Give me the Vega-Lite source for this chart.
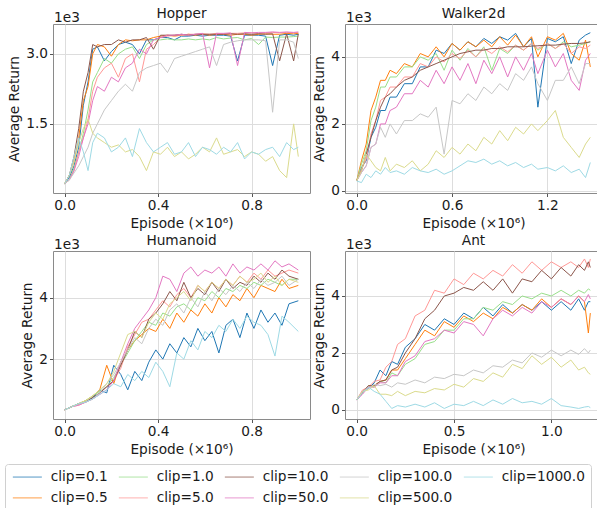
{
"$schema":"https://vega.github.io/schema/vega-lite/v6.json",
"padding":{"left":4,"top":6,"right":0,"bottom":0},
"background":"white",
"config":{
"font":"DejaVu Sans",
"view":{"stroke":"#8a8a8a","strokeWidth":1},
"axis":{"domain":false,"grid":true,"gridColor":"#dddddd","gridWidth":1,"tickColor":"#555555","tickSize":3.5,"labelFontSize":13.7,"titleFontSize":13.7,"titleFontWeight":"normal","labelColor":"#1a1a1a","titleColor":"#1a1a1a","labelPadding":2,"titlePadding":4,"labelFlush":false},
"title":{"fontSize":13.7,"fontWeight":"normal","color":"#1a1a1a","offset":-10},
"legend":{"symbolType":"M-1,0H4.8","symbolSize":100,"symbolStrokeWidth":1.5,"symbolOpacity":0.5,"labelFontSize":13.7,"labelColor":"#1a1a1a","labelOffset":26,"columnPadding":7,"rowPadding":6,"padding":6,"strokeColor":"#d0d0d0","cornerRadius":3,"fillColor":"white"}
},
"datasets":{
"hop":[
{"s":0.1,"x":0,"y":0.22},{"s":0.1,"x":0.02,"y":0.35},{"s":0.1,"x":0.04,"y":0.6},{"s":0.1,"x":0.06,"y":1.0},{"s":0.1,"x":0.08,"y":1.9},{"s":0.1,"x":0.1,"y":2.4},{"s":0.1,"x":0.12,"y":3.1},{"s":0.1,"x":0.14,"y":3.15},{"s":0.1,"x":0.17,"y":2.85},{"s":0.1,"x":0.2,"y":3.05},{"s":0.1,"x":0.23,"y":3.2},{"s":0.1,"x":0.26,"y":3.25},{"s":0.1,"x":0.29,"y":3.2},{"s":0.1,"x":0.32,"y":3.0},{"s":0.1,"x":0.35,"y":3.3},{"s":0.1,"x":0.38,"y":3.3},{"s":0.1,"x":0.41,"y":3.35},{"s":0.1,"x":0.44,"y":3.35},{"s":0.1,"x":0.47,"y":3.3},{"s":0.1,"x":0.5,"y":3.38},{"s":0.1,"x":0.53,"y":3.38},{"s":0.1,"x":0.56,"y":3.4},{"s":0.1,"x":0.59,"y":3.38},{"s":0.1,"x":0.62,"y":3.4},{"s":0.1,"x":0.65,"y":3.4},{"s":0.1,"x":0.68,"y":3.4},{"s":0.1,"x":0.71,"y":3.38},{"s":0.1,"x":0.74,"y":2.85},{"s":0.1,"x":0.77,"y":3.4},{"s":0.1,"x":0.8,"y":3.4},{"s":0.1,"x":0.83,"y":3.4},{"s":0.1,"x":0.86,"y":3.38},{"s":0.1,"x":0.89,"y":2.75},{"s":0.1,"x":0.92,"y":3.4},{"s":0.1,"x":0.95,"y":3.42},{"s":0.1,"x":0.98,"y":3.4},{"s":0.1,"x":1,"y":3.42},
{"s":0.5,"x":0,"y":0.22},{"s":0.5,"x":0.02,"y":0.4},{"s":0.5,"x":0.04,"y":0.7},{"s":0.5,"x":0.06,"y":1.2},{"s":0.5,"x":0.08,"y":2.0},{"s":0.5,"x":0.1,"y":2.3},{"s":0.5,"x":0.12,"y":3.0},{"s":0.5,"x":0.14,"y":3.2},{"s":0.5,"x":0.17,"y":3.15},{"s":0.5,"x":0.2,"y":2.95},{"s":0.5,"x":0.23,"y":3.2},{"s":0.5,"x":0.26,"y":3.3},{"s":0.5,"x":0.29,"y":3.28},{"s":0.5,"x":0.32,"y":3.3},{"s":0.5,"x":0.35,"y":3.3},{"s":0.5,"x":0.38,"y":3.35},{"s":0.5,"x":0.41,"y":3.38},{"s":0.5,"x":0.44,"y":3.4},{"s":0.5,"x":0.47,"y":3.38},{"s":0.5,"x":0.5,"y":3.4},{"s":0.5,"x":0.53,"y":3.42},{"s":0.5,"x":0.56,"y":3.4},{"s":0.5,"x":0.59,"y":3.42},{"s":0.5,"x":0.62,"y":3.4},{"s":0.5,"x":0.65,"y":3.42},{"s":0.5,"x":0.68,"y":3.42},{"s":0.5,"x":0.71,"y":3.4},{"s":0.5,"x":0.74,"y":3.42},{"s":0.5,"x":0.77,"y":3.42},{"s":0.5,"x":0.8,"y":3.4},{"s":0.5,"x":0.83,"y":3.42},{"s":0.5,"x":0.86,"y":3.43},{"s":0.5,"x":0.89,"y":3.42},{"s":0.5,"x":0.92,"y":3.42},{"s":0.5,"x":0.95,"y":3.44},{"s":0.5,"x":0.98,"y":3.43},{"s":0.5,"x":1,"y":3.44},
{"s":1,"x":0,"y":0.22},{"s":1,"x":0.02,"y":0.3},{"s":1,"x":0.04,"y":0.55},{"s":1,"x":0.06,"y":0.9},{"s":1,"x":0.08,"y":1.3},{"s":1,"x":0.1,"y":1.8},{"s":1,"x":0.12,"y":2.4},{"s":1,"x":0.14,"y":2.6},{"s":1,"x":0.17,"y":2.9},{"s":1,"x":0.2,"y":2.8},{"s":1,"x":0.23,"y":3.0},{"s":1,"x":0.26,"y":3.1},{"s":1,"x":0.29,"y":3.15},{"s":1,"x":0.32,"y":2.9},{"s":1,"x":0.35,"y":3.2},{"s":1,"x":0.38,"y":3.3},{"s":1,"x":0.41,"y":3.3},{"s":1,"x":0.44,"y":3.32},{"s":1,"x":0.47,"y":3.3},{"s":1,"x":0.5,"y":3.3},{"s":1,"x":0.53,"y":3.32},{"s":1,"x":0.56,"y":3.3},{"s":1,"x":0.59,"y":3.32},{"s":1,"x":0.62,"y":3.3},{"s":1,"x":0.65,"y":3.35},{"s":1,"x":0.68,"y":3.32},{"s":1,"x":0.71,"y":3.34},{"s":1,"x":0.74,"y":3.35},{"s":1,"x":0.77,"y":3.3},{"s":1,"x":0.8,"y":3.33},{"s":1,"x":0.83,"y":3.2},{"s":1,"x":0.86,"y":3.36},{"s":1,"x":0.89,"y":3.35},{"s":1,"x":0.92,"y":3.36},{"s":1,"x":0.95,"y":3.36},{"s":1,"x":0.98,"y":3.37},{"s":1,"x":1,"y":3.38},
{"s":5,"x":0,"y":0.22},{"s":5,"x":0.02,"y":0.3},{"s":5,"x":0.04,"y":0.5},{"s":5,"x":0.06,"y":0.9},{"s":5,"x":0.08,"y":1.2},{"s":5,"x":0.1,"y":1.6},{"s":5,"x":0.12,"y":2.2},{"s":5,"x":0.14,"y":2.5},{"s":5,"x":0.17,"y":2.7},{"s":5,"x":0.2,"y":2.8},{"s":5,"x":0.23,"y":2.5},{"s":5,"x":0.26,"y":2.9},{"s":5,"x":0.29,"y":3.0},{"s":5,"x":0.32,"y":2.4},{"s":5,"x":0.35,"y":3.1},{"s":5,"x":0.38,"y":3.2},{"s":5,"x":0.41,"y":3.35},{"s":5,"x":0.44,"y":3.38},{"s":5,"x":0.47,"y":3.4},{"s":5,"x":0.5,"y":3.4},{"s":5,"x":0.53,"y":3.42},{"s":5,"x":0.56,"y":3.42},{"s":5,"x":0.59,"y":3.43},{"s":5,"x":0.62,"y":3.42},{"s":5,"x":0.65,"y":3.44},{"s":5,"x":0.68,"y":3.43},{"s":5,"x":0.71,"y":3.44},{"s":5,"x":0.74,"y":3.44},{"s":5,"x":0.77,"y":3.45},{"s":5,"x":0.8,"y":3.45},{"s":5,"x":0.83,"y":3.44},{"s":5,"x":0.86,"y":3.45},{"s":5,"x":0.89,"y":3.46},{"s":5,"x":0.92,"y":3.45},{"s":5,"x":0.95,"y":3.46},{"s":5,"x":0.98,"y":3.45},{"s":5,"x":1,"y":3.46},
{"s":10,"x":0,"y":0.22},{"s":10,"x":0.02,"y":0.4},{"s":10,"x":0.04,"y":0.8},{"s":10,"x":0.06,"y":1.4},{"s":10,"x":0.08,"y":2.2},{"s":10,"x":0.1,"y":2.6},{"s":10,"x":0.12,"y":3.2},{"s":10,"x":0.14,"y":3.15},{"s":10,"x":0.17,"y":3.2},{"s":10,"x":0.2,"y":3.2},{"s":10,"x":0.23,"y":3.3},{"s":10,"x":0.26,"y":3.25},{"s":10,"x":0.29,"y":3.3},{"s":10,"x":0.32,"y":3.3},{"s":10,"x":0.35,"y":3.35},{"s":10,"x":0.38,"y":3.1},{"s":10,"x":0.41,"y":3.4},{"s":10,"x":0.44,"y":3.4},{"s":10,"x":0.47,"y":3.4},{"s":10,"x":0.5,"y":3.42},{"s":10,"x":0.53,"y":3.4},{"s":10,"x":0.56,"y":3.42},{"s":10,"x":0.59,"y":3.42},{"s":10,"x":0.62,"y":3.42},{"s":10,"x":0.65,"y":3.42},{"s":10,"x":0.68,"y":3.42},{"s":10,"x":0.71,"y":3.43},{"s":10,"x":0.74,"y":3.42},{"s":10,"x":0.77,"y":3.43},{"s":10,"x":0.8,"y":3.42},{"s":10,"x":0.83,"y":3.43},{"s":10,"x":0.86,"y":3.42},{"s":10,"x":0.89,"y":3.43},{"s":10,"x":0.92,"y":2.85},{"s":10,"x":0.95,"y":3.43},{"s":10,"x":0.98,"y":2.85},{"s":10,"x":1,"y":3.43},
{"s":50,"x":0,"y":0.22},{"s":50,"x":0.02,"y":0.3},{"s":50,"x":0.04,"y":0.5},{"s":50,"x":0.06,"y":0.8},{"s":50,"x":0.08,"y":1.2},{"s":50,"x":0.1,"y":1.5},{"s":50,"x":0.12,"y":2.0},{"s":50,"x":0.14,"y":2.3},{"s":50,"x":0.17,"y":2.2},{"s":50,"x":0.2,"y":2.5},{"s":50,"x":0.23,"y":2.4},{"s":50,"x":0.26,"y":2.7},{"s":50,"x":0.29,"y":2.8},{"s":50,"x":0.32,"y":3.1},{"s":50,"x":0.35,"y":3.0},{"s":50,"x":0.38,"y":3.3},{"s":50,"x":0.41,"y":3.35},{"s":50,"x":0.44,"y":3.4},{"s":50,"x":0.47,"y":3.4},{"s":50,"x":0.5,"y":3.42},{"s":50,"x":0.53,"y":3.4},{"s":50,"x":0.56,"y":3.42},{"s":50,"x":0.59,"y":3.44},{"s":50,"x":0.62,"y":2.7},{"s":50,"x":0.65,"y":3.44},{"s":50,"x":0.68,"y":3.44},{"s":50,"x":0.71,"y":3.45},{"s":50,"x":0.74,"y":2.75},{"s":50,"x":0.77,"y":3.46},{"s":50,"x":0.8,"y":3.45},{"s":50,"x":0.83,"y":3.46},{"s":50,"x":0.86,"y":3.46},{"s":50,"x":0.89,"y":3.47},{"s":50,"x":0.92,"y":3.46},{"s":50,"x":0.95,"y":3.47},{"s":50,"x":0.98,"y":3.46},{"s":50,"x":1,"y":3.47},
{"s":100,"x":0,"y":0.22},{"s":100,"x":0.02,"y":0.3},{"s":100,"x":0.04,"y":0.45},{"s":100,"x":0.06,"y":0.6},{"s":100,"x":0.08,"y":0.8},{"s":100,"x":0.1,"y":1.0},{"s":100,"x":0.12,"y":1.3},{"s":100,"x":0.14,"y":1.5},{"s":100,"x":0.17,"y":1.8},{"s":100,"x":0.2,"y":2.0},{"s":100,"x":0.23,"y":2.2},{"s":100,"x":0.26,"y":2.35},{"s":100,"x":0.29,"y":2.2},{"s":100,"x":0.32,"y":2.6},{"s":100,"x":0.35,"y":2.7},{"s":100,"x":0.38,"y":2.75},{"s":100,"x":0.41,"y":2.8},{"s":100,"x":0.44,"y":2.6},{"s":100,"x":0.47,"y":2.9},{"s":100,"x":0.5,"y":2.95},{"s":100,"x":0.53,"y":3.0},{"s":100,"x":0.56,"y":3.05},{"s":100,"x":0.59,"y":3.1},{"s":100,"x":0.62,"y":3.15},{"s":100,"x":0.65,"y":2.75},{"s":100,"x":0.68,"y":3.2},{"s":100,"x":0.71,"y":3.25},{"s":100,"x":0.74,"y":3.28},{"s":100,"x":0.77,"y":3.3},{"s":100,"x":0.8,"y":3.3},{"s":100,"x":0.83,"y":3.3},{"s":100,"x":0.86,"y":3.28},{"s":100,"x":0.89,"y":1.75},{"s":100,"x":0.92,"y":3.3},{"s":100,"x":0.95,"y":3.3},{"s":100,"x":0.98,"y":3.25},{"s":100,"x":1,"y":2.9},
{"s":500,"x":0,"y":0.22},{"s":500,"x":0.02,"y":0.4},{"s":500,"x":0.04,"y":0.7},{"s":500,"x":0.06,"y":1.1},{"s":500,"x":0.08,"y":1.4},{"s":500,"x":0.1,"y":1.6},{"s":500,"x":0.12,"y":1.3},{"s":500,"x":0.14,"y":1.2},{"s":500,"x":0.17,"y":1.1},{"s":500,"x":0.2,"y":1.0},{"s":500,"x":0.23,"y":1.05},{"s":500,"x":0.26,"y":0.9},{"s":500,"x":0.29,"y":0.95},{"s":500,"x":0.32,"y":0.8},{"s":500,"x":0.35,"y":0.5},{"s":500,"x":0.38,"y":0.9},{"s":500,"x":0.41,"y":0.85},{"s":500,"x":0.44,"y":1.0},{"s":500,"x":0.47,"y":0.8},{"s":500,"x":0.5,"y":0.9},{"s":500,"x":0.53,"y":0.75},{"s":500,"x":0.56,"y":0.85},{"s":500,"x":0.59,"y":1.0},{"s":500,"x":0.62,"y":0.9},{"s":500,"x":0.65,"y":1.2},{"s":500,"x":0.68,"y":0.85},{"s":500,"x":0.71,"y":0.9},{"s":500,"x":0.74,"y":0.95},{"s":500,"x":0.77,"y":0.8},{"s":500,"x":0.8,"y":0.9},{"s":500,"x":0.83,"y":0.85},{"s":500,"x":0.86,"y":0.7},{"s":500,"x":0.89,"y":0.8},{"s":500,"x":0.92,"y":0.5},{"s":500,"x":0.95,"y":0.35},{"s":500,"x":0.98,"y":1.5},{"s":500,"x":1,"y":0.8},
{"s":1000,"x":0,"y":0.22},{"s":1000,"x":0.02,"y":0.4},{"s":1000,"x":0.04,"y":0.8},{"s":1000,"x":0.06,"y":1.2},{"s":1000,"x":0.08,"y":0.9},{"s":1000,"x":0.1,"y":0.5},{"s":1000,"x":0.12,"y":1.1},{"s":1000,"x":0.14,"y":1.3},{"s":1000,"x":0.17,"y":1.2},{"s":1000,"x":0.2,"y":0.9},{"s":1000,"x":0.23,"y":1.0},{"s":1000,"x":0.26,"y":1.2},{"s":1000,"x":0.29,"y":0.8},{"s":1000,"x":0.32,"y":1.4},{"s":1000,"x":0.35,"y":1.1},{"s":1000,"x":0.38,"y":0.9},{"s":1000,"x":0.41,"y":1.0},{"s":1000,"x":0.44,"y":1.1},{"s":1000,"x":0.47,"y":0.85},{"s":1000,"x":0.5,"y":0.9},{"s":1000,"x":0.53,"y":1.1},{"s":1000,"x":0.56,"y":0.8},{"s":1000,"x":0.59,"y":1.0},{"s":1000,"x":0.62,"y":0.95},{"s":1000,"x":0.65,"y":0.85},{"s":1000,"x":0.68,"y":1.0},{"s":1000,"x":0.71,"y":0.9},{"s":1000,"x":0.74,"y":1.1},{"s":1000,"x":0.77,"y":0.75},{"s":1000,"x":0.8,"y":0.9},{"s":1000,"x":0.83,"y":0.85},{"s":1000,"x":0.86,"y":0.95},{"s":1000,"x":0.89,"y":1.0},{"s":1000,"x":0.92,"y":0.8},{"s":1000,"x":0.95,"y":1.1},{"s":1000,"x":0.98,"y":0.95},{"s":1000,"x":1,"y":1.0}
],
"wal":[
{"s":0.1,"x":0,"y":0.3},{"s":0.1,"x":0.03,"y":0.7},{"s":0.1,"x":0.06,"y":0.9},{"s":0.1,"x":0.09,"y":1.6},{"s":0.1,"x":0.12,"y":1.9},{"s":0.1,"x":0.15,"y":2.4},{"s":0.1,"x":0.18,"y":2.4},{"s":0.1,"x":0.21,"y":2.8},{"s":0.1,"x":0.25,"y":2.8},{"s":0.1,"x":0.3,"y":3.2},{"s":0.1,"x":0.35,"y":3.2},{"s":0.1,"x":0.4,"y":3.7},{"s":0.1,"x":0.45,"y":3.7},{"s":0.1,"x":0.5,"y":4.2},{"s":0.1,"x":0.55,"y":4.1},{"s":0.1,"x":0.6,"y":4.4},{"s":0.1,"x":0.65,"y":4.2},{"s":0.1,"x":0.7,"y":4.45},{"s":0.1,"x":0.75,"y":4.3},{"s":0.1,"x":0.8,"y":4.55},{"s":0.1,"x":0.85,"y":4.4},{"s":0.1,"x":0.9,"y":4.6},{"s":0.1,"x":0.95,"y":4.5},{"s":0.1,"x":1,"y":4.7},{"s":0.1,"x":1.05,"y":4.3},{"s":0.1,"x":1.1,"y":4.55},{"s":0.1,"x":1.14,"y":2.5},{"s":0.1,"x":1.2,"y":4.55},{"s":0.1,"x":1.25,"y":4.45},{"s":0.1,"x":1.3,"y":4.6},{"s":0.1,"x":1.35,"y":3.8},{"s":0.1,"x":1.4,"y":4.5},{"s":0.1,"x":1.44,"y":4.65},{"s":0.1,"x":1.47,"y":4.72},
{"s":0.5,"x":0,"y":0.3},{"s":0.5,"x":0.03,"y":0.9},{"s":0.5,"x":0.06,"y":1.4},{"s":0.5,"x":0.09,"y":2.4},{"s":0.5,"x":0.12,"y":2.8},{"s":0.5,"x":0.15,"y":3.3},{"s":0.5,"x":0.18,"y":3.3},{"s":0.5,"x":0.21,"y":3.6},{"s":0.5,"x":0.25,"y":3.5},{"s":0.5,"x":0.3,"y":3.8},{"s":0.5,"x":0.35,"y":3.7},{"s":0.5,"x":0.4,"y":4.1},{"s":0.5,"x":0.45,"y":4.0},{"s":0.5,"x":0.5,"y":4.3},{"s":0.5,"x":0.55,"y":4.0},{"s":0.5,"x":0.6,"y":4.4},{"s":0.5,"x":0.65,"y":4.2},{"s":0.5,"x":0.7,"y":4.45},{"s":0.5,"x":0.75,"y":4.3},{"s":0.5,"x":0.8,"y":4.5},{"s":0.5,"x":0.85,"y":4.3},{"s":0.5,"x":0.9,"y":4.6},{"s":0.5,"x":0.95,"y":4.35},{"s":0.5,"x":1,"y":4.65},{"s":0.5,"x":1.05,"y":4.3},{"s":0.5,"x":1.1,"y":4.6},{"s":0.5,"x":1.14,"y":4.0},{"s":0.5,"x":1.2,"y":4.6},{"s":0.5,"x":1.25,"y":4.5},{"s":0.5,"x":1.3,"y":4.7},{"s":0.5,"x":1.35,"y":4.1},{"s":0.5,"x":1.4,"y":3.9},{"s":0.5,"x":1.44,"y":4.5},{"s":0.5,"x":1.47,"y":3.7},
{"s":1,"x":0,"y":0.3},{"s":1,"x":0.03,"y":0.8},{"s":1,"x":0.06,"y":1.2},{"s":1,"x":0.09,"y":2.1},{"s":1,"x":0.12,"y":2.5},{"s":1,"x":0.15,"y":3.1},{"s":1,"x":0.18,"y":3.1},{"s":1,"x":0.21,"y":3.4},{"s":1,"x":0.25,"y":3.4},{"s":1,"x":0.3,"y":3.7},{"s":1,"x":0.35,"y":3.7},{"s":1,"x":0.4,"y":4.0},{"s":1,"x":0.45,"y":3.9},{"s":1,"x":0.5,"y":4.1},{"s":1,"x":0.55,"y":3.6},{"s":1,"x":0.6,"y":4.2},{"s":1,"x":0.65,"y":3.9},{"s":1,"x":0.7,"y":4.25},{"s":1,"x":0.75,"y":4.0},{"s":1,"x":0.8,"y":4.3},{"s":1,"x":0.85,"y":3.6},{"s":1,"x":0.9,"y":4.25},{"s":1,"x":0.95,"y":4.1},{"s":1,"x":1,"y":4.35},{"s":1,"x":1.05,"y":4.2},{"s":1,"x":1.1,"y":4.4},{"s":1,"x":1.14,"y":4.2},{"s":1,"x":1.2,"y":4.4},{"s":1,"x":1.25,"y":4.25},{"s":1,"x":1.3,"y":4.45},{"s":1,"x":1.35,"y":4.3},{"s":1,"x":1.4,"y":4.35},{"s":1,"x":1.44,"y":4.4},{"s":1,"x":1.47,"y":4.45},
{"s":5,"x":0,"y":0.3},{"s":5,"x":0.03,"y":0.65},{"s":5,"x":0.06,"y":0.95},{"s":5,"x":0.09,"y":1.7},{"s":5,"x":0.12,"y":2.1},{"s":5,"x":0.15,"y":2.7},{"s":5,"x":0.18,"y":2.8},{"s":5,"x":0.21,"y":3.1},{"s":5,"x":0.25,"y":3.1},{"s":5,"x":0.3,"y":3.4},{"s":5,"x":0.35,"y":3.4},{"s":5,"x":0.4,"y":3.8},{"s":5,"x":0.45,"y":3.7},{"s":5,"x":0.5,"y":4.0},{"s":5,"x":0.55,"y":3.85},{"s":5,"x":0.6,"y":4.1},{"s":5,"x":0.65,"y":3.95},{"s":5,"x":0.7,"y":4.2},{"s":5,"x":0.75,"y":4.0},{"s":5,"x":0.8,"y":4.25},{"s":5,"x":0.85,"y":4.1},{"s":5,"x":0.9,"y":4.3},{"s":5,"x":0.95,"y":4.15},{"s":5,"x":1,"y":4.35},{"s":5,"x":1.05,"y":4.2},{"s":5,"x":1.1,"y":4.4},{"s":5,"x":1.14,"y":4.25},{"s":5,"x":1.2,"y":4.4},{"s":5,"x":1.25,"y":4.25},{"s":5,"x":1.3,"y":4.4},{"s":5,"x":1.35,"y":4.1},{"s":5,"x":1.4,"y":4.3},{"s":5,"x":1.44,"y":4.25},{"s":5,"x":1.47,"y":4.35},
{"s":10,"x":0,"y":0.3},{"s":10,"x":0.03,"y":0.6},{"s":10,"x":0.06,"y":1.1},{"s":10,"x":0.09,"y":1.6},{"s":10,"x":0.12,"y":2.1},{"s":10,"x":0.15,"y":2.5},{"s":10,"x":0.18,"y":2.8},{"s":10,"x":0.21,"y":2.9},{"s":10,"x":0.25,"y":3.1},{"s":10,"x":0.3,"y":3.3},{"s":10,"x":0.35,"y":3.4},{"s":10,"x":0.4,"y":3.6},{"s":10,"x":0.45,"y":3.7},{"s":10,"x":0.5,"y":3.8},{"s":10,"x":0.55,"y":3.9},{"s":10,"x":0.6,"y":4.0},{"s":10,"x":0.65,"y":4.1},{"s":10,"x":0.7,"y":4.15},{"s":10,"x":0.75,"y":4.2},{"s":10,"x":0.8,"y":4.2},{"s":10,"x":0.85,"y":4.25},{"s":10,"x":0.9,"y":4.25},{"s":10,"x":0.95,"y":4.3},{"s":10,"x":1,"y":4.3},{"s":10,"x":1.05,"y":4.3},{"s":10,"x":1.1,"y":4.32},{"s":10,"x":1.14,"y":4.33},{"s":10,"x":1.2,"y":4.35},{"s":10,"x":1.25,"y":4.35},{"s":10,"x":1.3,"y":4.38},{"s":10,"x":1.35,"y":4.4},{"s":10,"x":1.4,"y":4.4},{"s":10,"x":1.44,"y":4.42},{"s":10,"x":1.47,"y":4.45},
{"s":50,"x":0,"y":0.3},{"s":50,"x":0.03,"y":0.55},{"s":50,"x":0.06,"y":0.75},{"s":50,"x":0.09,"y":1.3},{"s":50,"x":0.12,"y":1.4},{"s":50,"x":0.15,"y":2.0},{"s":50,"x":0.18,"y":2.0},{"s":50,"x":0.21,"y":2.4},{"s":50,"x":0.25,"y":2.5},{"s":50,"x":0.3,"y":2.9},{"s":50,"x":0.35,"y":2.9},{"s":50,"x":0.4,"y":3.3},{"s":50,"x":0.45,"y":3.1},{"s":50,"x":0.5,"y":3.6},{"s":50,"x":0.55,"y":3.2},{"s":50,"x":0.6,"y":3.7},{"s":50,"x":0.65,"y":3.3},{"s":50,"x":0.7,"y":3.8},{"s":50,"x":0.75,"y":3.2},{"s":50,"x":0.8,"y":3.9},{"s":50,"x":0.85,"y":3.5},{"s":50,"x":0.9,"y":4.0},{"s":50,"x":0.95,"y":3.4},{"s":50,"x":1,"y":4.0},{"s":50,"x":1.05,"y":3.6},{"s":50,"x":1.1,"y":4.1},{"s":50,"x":1.14,"y":3.5},{"s":50,"x":1.2,"y":4.2},{"s":50,"x":1.25,"y":3.7},{"s":50,"x":1.3,"y":4.1},{"s":50,"x":1.35,"y":3.3},{"s":50,"x":1.4,"y":3.0},{"s":50,"x":1.44,"y":3.9},{"s":50,"x":1.47,"y":4.1},
{"s":100,"x":0,"y":0.3},{"s":100,"x":0.03,"y":0.55},{"s":100,"x":0.06,"y":0.75},{"s":100,"x":0.09,"y":1.3},{"s":100,"x":0.12,"y":1.4},{"s":100,"x":0.15,"y":1.9},{"s":100,"x":0.18,"y":1.6},{"s":100,"x":0.21,"y":2.0},{"s":100,"x":0.25,"y":1.7},{"s":100,"x":0.3,"y":2.1},{"s":100,"x":0.35,"y":2.1},{"s":100,"x":0.4,"y":2.3},{"s":100,"x":0.45,"y":2.2},{"s":100,"x":0.5,"y":2.5},{"s":100,"x":0.55,"y":1.1},{"s":100,"x":0.6,"y":2.7},{"s":100,"x":0.65,"y":2.6},{"s":100,"x":0.7,"y":2.9},{"s":100,"x":0.75,"y":2.7},{"s":100,"x":0.8,"y":3.1},{"s":100,"x":0.85,"y":2.9},{"s":100,"x":0.9,"y":3.2},{"s":100,"x":0.95,"y":3.0},{"s":100,"x":1,"y":3.5},{"s":100,"x":1.05,"y":3.3},{"s":100,"x":1.1,"y":3.7},{"s":100,"x":1.14,"y":3.2},{"s":100,"x":1.2,"y":2.7},{"s":100,"x":1.25,"y":3.3},{"s":100,"x":1.3,"y":3.3},{"s":100,"x":1.35,"y":3.7},{"s":100,"x":1.4,"y":3.2},{"s":100,"x":1.44,"y":3.8},{"s":100,"x":1.47,"y":3.8},
{"s":500,"x":0,"y":0.3},{"s":500,"x":0.03,"y":0.6},{"s":500,"x":0.06,"y":1.1},{"s":500,"x":0.09,"y":0.9},{"s":500,"x":0.12,"y":0.7},{"s":500,"x":0.15,"y":0.6},{"s":500,"x":0.18,"y":1.0},{"s":500,"x":0.21,"y":0.6},{"s":500,"x":0.25,"y":0.8},{"s":500,"x":0.3,"y":0.7},{"s":500,"x":0.35,"y":0.9},{"s":500,"x":0.4,"y":0.6},{"s":500,"x":0.45,"y":0.8},{"s":500,"x":0.5,"y":1.2},{"s":500,"x":0.55,"y":1.0},{"s":500,"x":0.6,"y":1.3},{"s":500,"x":0.65,"y":1.1},{"s":500,"x":0.7,"y":1.4},{"s":500,"x":0.75,"y":1.2},{"s":500,"x":0.8,"y":1.6},{"s":500,"x":0.85,"y":1.4},{"s":500,"x":0.9,"y":1.8},{"s":500,"x":0.95,"y":1.5},{"s":500,"x":1,"y":1.9},{"s":500,"x":1.05,"y":1.7},{"s":500,"x":1.1,"y":2.0},{"s":500,"x":1.14,"y":1.8},{"s":500,"x":1.2,"y":2.1},{"s":500,"x":1.25,"y":2.4},{"s":500,"x":1.3,"y":1.6},{"s":500,"x":1.35,"y":1.3},{"s":500,"x":1.4,"y":1.0},{"s":500,"x":1.44,"y":1.4},{"s":500,"x":1.47,"y":1.6},
{"s":1000,"x":0,"y":0.3},{"s":1000,"x":0.03,"y":0.25},{"s":1000,"x":0.06,"y":0.5},{"s":1000,"x":0.09,"y":0.4},{"s":1000,"x":0.12,"y":0.6},{"s":1000,"x":0.15,"y":0.5},{"s":1000,"x":0.18,"y":0.7},{"s":1000,"x":0.21,"y":0.55},{"s":1000,"x":0.25,"y":0.6},{"s":1000,"x":0.3,"y":0.5},{"s":1000,"x":0.35,"y":0.7},{"s":1000,"x":0.4,"y":0.6},{"s":1000,"x":0.45,"y":0.55},{"s":1000,"x":0.5,"y":0.65},{"s":1000,"x":0.55,"y":0.5},{"s":1000,"x":0.6,"y":0.6},{"s":1000,"x":0.65,"y":0.75},{"s":1000,"x":0.7,"y":0.9},{"s":1000,"x":0.75,"y":0.85},{"s":1000,"x":0.8,"y":0.95},{"s":1000,"x":0.85,"y":0.8},{"s":1000,"x":0.9,"y":0.9},{"s":1000,"x":0.95,"y":0.75},{"s":1000,"x":1,"y":0.85},{"s":1000,"x":1.05,"y":0.7},{"s":1000,"x":1.1,"y":0.8},{"s":1000,"x":1.14,"y":0.65},{"s":1000,"x":1.2,"y":0.7},{"s":1000,"x":1.25,"y":0.6},{"s":1000,"x":1.3,"y":0.75},{"s":1000,"x":1.35,"y":0.55},{"s":1000,"x":1.4,"y":0.65},{"s":1000,"x":1.44,"y":0.4},{"s":1000,"x":1.47,"y":0.85}
],
"hum":[
{"s":0.1,"x":0,"y":0.35},{"s":0.1,"x":0.03,"y":0.45},{"s":0.1,"x":0.06,"y":0.55},{"s":0.1,"x":0.09,"y":0.6},{"s":0.1,"x":0.12,"y":0.75},{"s":0.1,"x":0.15,"y":1.0},{"s":0.1,"x":0.18,"y":0.9},{"s":0.1,"x":0.21,"y":1.8},{"s":0.1,"x":0.24,"y":1.5},{"s":0.1,"x":0.27,"y":1.0},{"s":0.1,"x":0.3,"y":1.6},{"s":0.1,"x":0.33,"y":1.3},{"s":0.1,"x":0.36,"y":1.9},{"s":0.1,"x":0.39,"y":2.3},{"s":0.1,"x":0.42,"y":2.0},{"s":0.1,"x":0.45,"y":2.5},{"s":0.1,"x":0.48,"y":2.2},{"s":0.1,"x":0.51,"y":2.7},{"s":0.1,"x":0.54,"y":2.4},{"s":0.1,"x":0.57,"y":3.0},{"s":0.1,"x":0.6,"y":2.6},{"s":0.1,"x":0.63,"y":2.9},{"s":0.1,"x":0.66,"y":2.2},{"s":0.1,"x":0.69,"y":3.1},{"s":0.1,"x":0.72,"y":3.3},{"s":0.1,"x":0.75,"y":2.7},{"s":0.1,"x":0.78,"y":3.5},{"s":0.1,"x":0.81,"y":3.0},{"s":0.1,"x":0.84,"y":3.6},{"s":0.1,"x":0.87,"y":3.2},{"s":0.1,"x":0.9,"y":3.5},{"s":0.1,"x":0.93,"y":3.1},{"s":0.1,"x":0.96,"y":3.8},{"s":0.1,"x":1,"y":3.9},
{"s":0.5,"x":0,"y":0.35},{"s":0.5,"x":0.03,"y":0.45},{"s":0.5,"x":0.06,"y":0.55},{"s":0.5,"x":0.09,"y":0.65},{"s":0.5,"x":0.12,"y":0.8},{"s":0.5,"x":0.15,"y":1.0},{"s":0.5,"x":0.18,"y":1.8},{"s":0.5,"x":0.21,"y":1.2},{"s":0.5,"x":0.24,"y":1.9},{"s":0.5,"x":0.27,"y":2.3},{"s":0.5,"x":0.3,"y":2.6},{"s":0.5,"x":0.33,"y":2.8},{"s":0.5,"x":0.36,"y":3.0},{"s":0.5,"x":0.39,"y":2.9},{"s":0.5,"x":0.42,"y":3.3},{"s":0.5,"x":0.45,"y":3.0},{"s":0.5,"x":0.48,"y":3.5},{"s":0.5,"x":0.51,"y":3.2},{"s":0.5,"x":0.54,"y":3.6},{"s":0.5,"x":0.57,"y":3.4},{"s":0.5,"x":0.6,"y":3.8},{"s":0.5,"x":0.63,"y":3.5},{"s":0.5,"x":0.66,"y":4.0},{"s":0.5,"x":0.69,"y":3.7},{"s":0.5,"x":0.72,"y":4.1},{"s":0.5,"x":0.75,"y":3.9},{"s":0.5,"x":0.78,"y":4.3},{"s":0.5,"x":0.81,"y":4.0},{"s":0.5,"x":0.84,"y":4.4},{"s":0.5,"x":0.87,"y":4.3},{"s":0.5,"x":0.9,"y":4.2},{"s":0.5,"x":0.93,"y":4.6},{"s":0.5,"x":0.96,"y":4.3},{"s":0.5,"x":1,"y":4.4},
{"s":1,"x":0,"y":0.35},{"s":1,"x":0.03,"y":0.45},{"s":1,"x":0.06,"y":0.55},{"s":1,"x":0.09,"y":0.65},{"s":1,"x":0.12,"y":0.8},{"s":1,"x":0.15,"y":0.95},{"s":1,"x":0.18,"y":1.1},{"s":1,"x":0.21,"y":1.4},{"s":1,"x":0.24,"y":1.8},{"s":1,"x":0.27,"y":2.2},{"s":1,"x":0.3,"y":2.6},{"s":1,"x":0.33,"y":2.9},{"s":1,"x":0.36,"y":3.2},{"s":1,"x":0.39,"y":3.1},{"s":1,"x":0.42,"y":3.5},{"s":1,"x":0.45,"y":3.4},{"s":1,"x":0.48,"y":3.7},{"s":1,"x":0.51,"y":3.8},{"s":1,"x":0.54,"y":3.6},{"s":1,"x":0.57,"y":4.0},{"s":1,"x":0.6,"y":3.9},{"s":1,"x":0.63,"y":4.2},{"s":1,"x":0.66,"y":4.0},{"s":1,"x":0.69,"y":4.3},{"s":1,"x":0.72,"y":4.2},{"s":1,"x":0.75,"y":4.4},{"s":1,"x":0.78,"y":4.3},{"s":1,"x":0.81,"y":4.5},{"s":1,"x":0.84,"y":4.4},{"s":1,"x":0.87,"y":4.6},{"s":1,"x":0.9,"y":4.5},{"s":1,"x":0.93,"y":4.4},{"s":1,"x":0.96,"y":4.6},{"s":1,"x":1,"y":4.6},
{"s":5,"x":0,"y":0.35},{"s":5,"x":0.03,"y":0.45},{"s":5,"x":0.06,"y":0.5},{"s":5,"x":0.09,"y":0.6},{"s":5,"x":0.12,"y":0.7},{"s":5,"x":0.15,"y":0.9},{"s":5,"x":0.18,"y":1.1},{"s":5,"x":0.21,"y":1.3},{"s":5,"x":0.24,"y":1.7},{"s":5,"x":0.27,"y":2.4},{"s":5,"x":0.3,"y":2.8},{"s":5,"x":0.33,"y":3.2},{"s":5,"x":0.36,"y":3.3},{"s":5,"x":0.39,"y":3.6},{"s":5,"x":0.42,"y":3.9},{"s":5,"x":0.45,"y":3.7},{"s":5,"x":0.48,"y":4.1},{"s":5,"x":0.51,"y":4.3},{"s":5,"x":0.54,"y":4.0},{"s":5,"x":0.57,"y":4.4},{"s":5,"x":0.6,"y":4.2},{"s":5,"x":0.63,"y":4.5},{"s":5,"x":0.66,"y":4.3},{"s":5,"x":0.69,"y":4.6},{"s":5,"x":0.72,"y":4.4},{"s":5,"x":0.75,"y":4.7},{"s":5,"x":0.78,"y":4.5},{"s":5,"x":0.81,"y":4.8},{"s":5,"x":0.84,"y":4.6},{"s":5,"x":0.87,"y":4.9},{"s":5,"x":0.9,"y":4.7},{"s":5,"x":0.93,"y":4.8},{"s":5,"x":0.96,"y":4.9},{"s":5,"x":1,"y":4.8},
{"s":10,"x":0,"y":0.35},{"s":10,"x":0.03,"y":0.45},{"s":10,"x":0.06,"y":0.55},{"s":10,"x":0.09,"y":0.6},{"s":10,"x":0.12,"y":0.75},{"s":10,"x":0.15,"y":0.9},{"s":10,"x":0.18,"y":1.1},{"s":10,"x":0.21,"y":1.3},{"s":10,"x":0.24,"y":1.8},{"s":10,"x":0.27,"y":2.3},{"s":10,"x":0.3,"y":2.9},{"s":10,"x":0.33,"y":2.7},{"s":10,"x":0.36,"y":3.3},{"s":10,"x":0.39,"y":3.5},{"s":10,"x":0.42,"y":3.8},{"s":10,"x":0.45,"y":4.2},{"s":10,"x":0.48,"y":3.9},{"s":10,"x":0.51,"y":4.5},{"s":10,"x":0.54,"y":4.0},{"s":10,"x":0.57,"y":4.3},{"s":10,"x":0.6,"y":4.1},{"s":10,"x":0.63,"y":4.5},{"s":10,"x":0.66,"y":4.2},{"s":10,"x":0.69,"y":4.6},{"s":10,"x":0.72,"y":4.3},{"s":10,"x":0.75,"y":4.5},{"s":10,"x":0.78,"y":4.4},{"s":10,"x":0.81,"y":4.7},{"s":10,"x":0.84,"y":4.5},{"s":10,"x":0.87,"y":4.8},{"s":10,"x":0.9,"y":4.6},{"s":10,"x":0.93,"y":4.9},{"s":10,"x":0.96,"y":4.7},{"s":10,"x":1,"y":4.6},
{"s":50,"x":0,"y":0.35},{"s":50,"x":0.03,"y":0.45},{"s":50,"x":0.06,"y":0.5},{"s":50,"x":0.09,"y":0.6},{"s":50,"x":0.12,"y":0.7},{"s":50,"x":0.15,"y":0.85},{"s":50,"x":0.18,"y":1.0},{"s":50,"x":0.21,"y":1.3},{"s":50,"x":0.24,"y":1.9},{"s":50,"x":0.27,"y":2.5},{"s":50,"x":0.3,"y":3.0},{"s":50,"x":0.33,"y":3.3},{"s":50,"x":0.36,"y":3.6},{"s":50,"x":0.39,"y":4.0},{"s":50,"x":0.42,"y":4.7},{"s":50,"x":0.45,"y":4.6},{"s":50,"x":0.48,"y":4.2},{"s":50,"x":0.51,"y":4.8},{"s":50,"x":0.54,"y":5.0},{"s":50,"x":0.57,"y":4.7},{"s":50,"x":0.6,"y":4.9},{"s":50,"x":0.63,"y":4.8},{"s":50,"x":0.66,"y":5.0},{"s":50,"x":0.69,"y":4.7},{"s":50,"x":0.72,"y":5.1},{"s":50,"x":0.75,"y":4.8},{"s":50,"x":0.78,"y":5.0},{"s":50,"x":0.81,"y":4.9},{"s":50,"x":0.84,"y":5.1},{"s":50,"x":0.87,"y":4.9},{"s":50,"x":0.9,"y":5.2},{"s":50,"x":0.93,"y":5.0},{"s":50,"x":0.96,"y":5.1},{"s":50,"x":1,"y":4.9},
{"s":100,"x":0,"y":0.35},{"s":100,"x":0.03,"y":0.45},{"s":100,"x":0.06,"y":0.55},{"s":100,"x":0.09,"y":0.6},{"s":100,"x":0.12,"y":0.7},{"s":100,"x":0.15,"y":0.9},{"s":100,"x":0.18,"y":1.2},{"s":100,"x":0.21,"y":1.5},{"s":100,"x":0.24,"y":1.9},{"s":100,"x":0.27,"y":2.3},{"s":100,"x":0.3,"y":2.7},{"s":100,"x":0.33,"y":2.5},{"s":100,"x":0.36,"y":3.0},{"s":100,"x":0.39,"y":3.3},{"s":100,"x":0.42,"y":3.1},{"s":100,"x":0.45,"y":3.6},{"s":100,"x":0.48,"y":3.8},{"s":100,"x":0.51,"y":3.5},{"s":100,"x":0.54,"y":4.0},{"s":100,"x":0.57,"y":3.7},{"s":100,"x":0.6,"y":4.2},{"s":100,"x":0.63,"y":3.9},{"s":100,"x":0.66,"y":4.3},{"s":100,"x":0.69,"y":4.1},{"s":100,"x":0.72,"y":4.4},{"s":100,"x":0.75,"y":4.2},{"s":100,"x":0.78,"y":4.5},{"s":100,"x":0.81,"y":4.3},{"s":100,"x":0.84,"y":4.6},{"s":100,"x":0.87,"y":4.4},{"s":100,"x":0.9,"y":4.5},{"s":100,"x":0.93,"y":4.7},{"s":100,"x":0.96,"y":4.4},{"s":100,"x":1,"y":4.6},
{"s":500,"x":0,"y":0.35},{"s":500,"x":0.03,"y":0.45},{"s":500,"x":0.06,"y":0.55},{"s":500,"x":0.09,"y":0.65},{"s":500,"x":0.12,"y":0.8},{"s":500,"x":0.15,"y":1.0},{"s":500,"x":0.18,"y":1.2},{"s":500,"x":0.21,"y":1.6},{"s":500,"x":0.24,"y":2.2},{"s":500,"x":0.27,"y":2.8},{"s":500,"x":0.3,"y":2.9},{"s":500,"x":0.33,"y":2.7},{"s":500,"x":0.36,"y":3.2},{"s":500,"x":0.39,"y":3.5},{"s":500,"x":0.42,"y":3.3},{"s":500,"x":0.45,"y":3.8},{"s":500,"x":0.48,"y":4.0},{"s":500,"x":0.51,"y":4.2},{"s":500,"x":0.54,"y":3.9},{"s":500,"x":0.57,"y":4.4},{"s":500,"x":0.6,"y":4.2},{"s":500,"x":0.63,"y":4.5},{"s":500,"x":0.66,"y":4.3},{"s":500,"x":0.69,"y":4.6},{"s":500,"x":0.72,"y":4.4},{"s":500,"x":0.75,"y":4.7},{"s":500,"x":0.78,"y":4.5},{"s":500,"x":0.81,"y":4.6},{"s":500,"x":0.84,"y":4.8},{"s":500,"x":0.87,"y":4.5},{"s":500,"x":0.9,"y":4.7},{"s":500,"x":0.93,"y":4.4},{"s":500,"x":0.96,"y":4.6},{"s":500,"x":1,"y":4.5},
{"s":1000,"x":0,"y":0.35},{"s":1000,"x":0.03,"y":0.45},{"s":1000,"x":0.06,"y":0.55},{"s":1000,"x":0.09,"y":0.6},{"s":1000,"x":0.12,"y":0.7},{"s":1000,"x":0.15,"y":0.85},{"s":1000,"x":0.18,"y":1.0},{"s":1000,"x":0.21,"y":1.2},{"s":1000,"x":0.24,"y":1.1},{"s":1000,"x":0.27,"y":1.5},{"s":1000,"x":0.3,"y":1.3},{"s":1000,"x":0.33,"y":1.6},{"s":1000,"x":0.36,"y":1.4},{"s":1000,"x":0.39,"y":1.9},{"s":1000,"x":0.42,"y":1.6},{"s":1000,"x":0.45,"y":1.1},{"s":1000,"x":0.48,"y":2.2},{"s":1000,"x":0.51,"y":2.0},{"s":1000,"x":0.54,"y":2.6},{"s":1000,"x":0.57,"y":2.3},{"s":1000,"x":0.6,"y":2.9},{"s":1000,"x":0.63,"y":2.7},{"s":1000,"x":0.66,"y":3.1},{"s":1000,"x":0.69,"y":2.9},{"s":1000,"x":0.72,"y":3.3},{"s":1000,"x":0.75,"y":3.0},{"s":1000,"x":0.78,"y":3.4},{"s":1000,"x":0.81,"y":3.2},{"s":1000,"x":0.84,"y":3.1},{"s":1000,"x":0.87,"y":2.8},{"s":1000,"x":0.9,"y":2.1},{"s":1000,"x":0.93,"y":3.4},{"s":1000,"x":0.96,"y":3.2},{"s":1000,"x":1,"y":2.9}
],
"ant":[
{"s":0.1,"x":0,"y":0.35},{"s":0.1,"x":0.03,"y":0.65},{"s":0.1,"x":0.06,"y":0.75},{"s":0.1,"x":0.09,"y":0.95},{"s":0.1,"x":0.12,"y":1.4},{"s":0.1,"x":0.15,"y":1.2},{"s":0.1,"x":0.18,"y":1.7},{"s":0.1,"x":0.21,"y":1.6},{"s":0.1,"x":0.25,"y":2.2},{"s":0.1,"x":0.3,"y":2.5},{"s":0.1,"x":0.35,"y":3.0},{"s":0.1,"x":0.4,"y":2.8},{"s":0.1,"x":0.45,"y":3.2},{"s":0.1,"x":0.5,"y":3.0},{"s":0.1,"x":0.55,"y":3.4},{"s":0.1,"x":0.6,"y":3.2},{"s":0.1,"x":0.65,"y":3.6},{"s":0.1,"x":0.7,"y":3.3},{"s":0.1,"x":0.75,"y":3.7},{"s":0.1,"x":0.8,"y":3.4},{"s":0.1,"x":0.85,"y":3.7},{"s":0.1,"x":0.9,"y":3.5},{"s":0.1,"x":0.95,"y":3.8},{"s":0.1,"x":1,"y":3.5},{"s":0.1,"x":1.05,"y":3.8},{"s":0.1,"x":1.1,"y":3.5},{"s":0.1,"x":1.14,"y":3.9},{"s":0.1,"x":1.17,"y":3.5},{"s":0.1,"x":1.19,"y":3.8},{"s":0.1,"x":1.2,"y":3.8},
{"s":0.5,"x":0,"y":0.35},{"s":0.5,"x":0.03,"y":0.6},{"s":0.5,"x":0.06,"y":0.85},{"s":0.5,"x":0.09,"y":0.85},{"s":0.5,"x":0.12,"y":1.0},{"s":0.5,"x":0.15,"y":1.05},{"s":0.5,"x":0.18,"y":1.4},{"s":0.5,"x":0.21,"y":1.4},{"s":0.5,"x":0.25,"y":1.8},{"s":0.5,"x":0.3,"y":2.3},{"s":0.5,"x":0.35,"y":2.8},{"s":0.5,"x":0.4,"y":2.6},{"s":0.5,"x":0.45,"y":3.1},{"s":0.5,"x":0.5,"y":2.9},{"s":0.5,"x":0.55,"y":3.3},{"s":0.5,"x":0.6,"y":3.1},{"s":0.5,"x":0.65,"y":3.4},{"s":0.5,"x":0.7,"y":3.2},{"s":0.5,"x":0.75,"y":3.6},{"s":0.5,"x":0.8,"y":3.4},{"s":0.5,"x":0.85,"y":3.7},{"s":0.5,"x":0.9,"y":3.5},{"s":0.5,"x":0.95,"y":3.9},{"s":0.5,"x":1,"y":3.6},{"s":0.5,"x":1.05,"y":3.9},{"s":0.5,"x":1.1,"y":3.7},{"s":0.5,"x":1.14,"y":4.0},{"s":0.5,"x":1.17,"y":3.8},{"s":0.5,"x":1.19,"y":2.7},{"s":0.5,"x":1.2,"y":3.4},
{"s":1,"x":0,"y":0.35},{"s":1,"x":0.03,"y":0.6},{"s":1,"x":0.06,"y":0.85},{"s":1,"x":0.09,"y":0.8},{"s":1,"x":0.12,"y":1.0},{"s":1,"x":0.15,"y":0.95},{"s":1,"x":0.18,"y":1.3},{"s":1,"x":0.21,"y":1.2},{"s":1,"x":0.25,"y":1.6},{"s":1,"x":0.3,"y":1.8},{"s":1,"x":0.35,"y":2.3},{"s":1,"x":0.4,"y":2.4},{"s":1,"x":0.45,"y":2.8},{"s":1,"x":0.5,"y":2.8},{"s":1,"x":0.55,"y":3.2},{"s":1,"x":0.6,"y":3.2},{"s":1,"x":0.65,"y":3.6},{"s":1,"x":0.7,"y":3.5},{"s":1,"x":0.75,"y":3.8},{"s":1,"x":0.8,"y":3.7},{"s":1,"x":0.85,"y":4.0},{"s":1,"x":0.9,"y":3.9},{"s":1,"x":0.95,"y":4.1},{"s":1,"x":1,"y":4.0},{"s":1,"x":1.05,"y":4.2},{"s":1,"x":1.1,"y":4.0},{"s":1,"x":1.14,"y":4.2},{"s":1,"x":1.17,"y":4.1},{"s":1,"x":1.19,"y":4.25},{"s":1,"x":1.2,"y":4.2},
{"s":5,"x":0,"y":0.35},{"s":5,"x":0.03,"y":0.7},{"s":5,"x":0.06,"y":0.8},{"s":5,"x":0.09,"y":1.0},{"s":5,"x":0.12,"y":1.05},{"s":5,"x":0.15,"y":1.5},{"s":5,"x":0.18,"y":1.7},{"s":5,"x":0.21,"y":2.3},{"s":5,"x":0.25,"y":2.5},{"s":5,"x":0.3,"y":3.3},{"s":5,"x":0.35,"y":3.5},{"s":5,"x":0.4,"y":4.2},{"s":5,"x":0.45,"y":4.1},{"s":5,"x":0.5,"y":4.6},{"s":5,"x":0.55,"y":4.4},{"s":5,"x":0.6,"y":4.8},{"s":5,"x":0.65,"y":4.6},{"s":5,"x":0.7,"y":4.9},{"s":5,"x":0.75,"y":4.7},{"s":5,"x":0.8,"y":5.1},{"s":5,"x":0.85,"y":4.8},{"s":5,"x":0.9,"y":5.2},{"s":5,"x":0.95,"y":4.9},{"s":5,"x":1,"y":5.2},{"s":5,"x":1.05,"y":5.0},{"s":5,"x":1.1,"y":5.2},{"s":5,"x":1.14,"y":5.0},{"s":5,"x":1.17,"y":5.3},{"s":5,"x":1.19,"y":5.0},{"s":5,"x":1.2,"y":5.3},
{"s":10,"x":0,"y":0.35},{"s":10,"x":0.03,"y":0.6},{"s":10,"x":0.06,"y":0.85},{"s":10,"x":0.09,"y":0.85},{"s":10,"x":0.12,"y":1.0},{"s":10,"x":0.15,"y":1.05},{"s":10,"x":0.18,"y":1.4},{"s":10,"x":0.21,"y":1.5},{"s":10,"x":0.25,"y":2.0},{"s":10,"x":0.3,"y":2.5},{"s":10,"x":0.35,"y":3.2},{"s":10,"x":0.4,"y":3.5},{"s":10,"x":0.45,"y":4.0},{"s":10,"x":0.5,"y":4.1},{"s":10,"x":0.55,"y":4.3},{"s":10,"x":0.6,"y":4.2},{"s":10,"x":0.65,"y":4.5},{"s":10,"x":0.7,"y":4.2},{"s":10,"x":0.75,"y":4.6},{"s":10,"x":0.8,"y":4.1},{"s":10,"x":0.85,"y":4.6},{"s":10,"x":0.9,"y":4.5},{"s":10,"x":0.95,"y":4.9},{"s":10,"x":1,"y":4.6},{"s":10,"x":1.05,"y":5.0},{"s":10,"x":1.1,"y":4.7},{"s":10,"x":1.14,"y":5.1},{"s":10,"x":1.17,"y":4.9},{"s":10,"x":1.19,"y":5.2},{"s":10,"x":1.2,"y":5.0},
{"s":50,"x":0,"y":0.35},{"s":50,"x":0.03,"y":0.55},{"s":50,"x":0.06,"y":0.8},{"s":50,"x":0.09,"y":0.8},{"s":50,"x":0.12,"y":0.95},{"s":50,"x":0.15,"y":0.95},{"s":50,"x":0.18,"y":1.2},{"s":50,"x":0.21,"y":1.2},{"s":50,"x":0.25,"y":1.7},{"s":50,"x":0.3,"y":1.9},{"s":50,"x":0.35,"y":2.4},{"s":50,"x":0.4,"y":2.5},{"s":50,"x":0.45,"y":2.8},{"s":50,"x":0.5,"y":2.7},{"s":50,"x":0.55,"y":3.1},{"s":50,"x":0.6,"y":3.0},{"s":50,"x":0.65,"y":2.6},{"s":50,"x":0.7,"y":3.2},{"s":50,"x":0.75,"y":3.5},{"s":50,"x":0.8,"y":3.3},{"s":50,"x":0.85,"y":3.6},{"s":50,"x":0.9,"y":3.4},{"s":50,"x":0.95,"y":3.8},{"s":50,"x":1,"y":3.6},{"s":50,"x":1.05,"y":3.9},{"s":50,"x":1.1,"y":3.7},{"s":50,"x":1.14,"y":4.0},{"s":50,"x":1.17,"y":3.8},{"s":50,"x":1.19,"y":4.05},{"s":50,"x":1.2,"y":3.9},
{"s":100,"x":0,"y":0.35},{"s":100,"x":0.03,"y":0.65},{"s":100,"x":0.06,"y":0.75},{"s":100,"x":0.09,"y":0.9},{"s":100,"x":0.12,"y":0.85},{"s":100,"x":0.15,"y":0.9},{"s":100,"x":0.18,"y":0.8},{"s":100,"x":0.21,"y":0.95},{"s":100,"x":0.25,"y":0.9},{"s":100,"x":0.3,"y":1.05},{"s":100,"x":0.35,"y":0.95},{"s":100,"x":0.4,"y":1.15},{"s":100,"x":0.45,"y":1.1},{"s":100,"x":0.5,"y":1.25},{"s":100,"x":0.55,"y":1.2},{"s":100,"x":0.6,"y":1.4},{"s":100,"x":0.65,"y":1.3},{"s":100,"x":0.7,"y":1.55},{"s":100,"x":0.75,"y":1.5},{"s":100,"x":0.8,"y":1.75},{"s":100,"x":0.85,"y":1.65},{"s":100,"x":0.9,"y":2.0},{"s":100,"x":0.95,"y":1.85},{"s":100,"x":1,"y":2.1},{"s":100,"x":1.05,"y":1.9},{"s":100,"x":1.1,"y":2.1},{"s":100,"x":1.14,"y":1.95},{"s":100,"x":1.17,"y":2.15},{"s":100,"x":1.19,"y":2.0},{"s":100,"x":1.2,"y":2.1},
{"s":500,"x":0,"y":0.35},{"s":500,"x":0.03,"y":0.65},{"s":500,"x":0.06,"y":0.7},{"s":500,"x":0.09,"y":0.85},{"s":500,"x":0.12,"y":0.55},{"s":500,"x":0.15,"y":0.55},{"s":500,"x":0.18,"y":0.5},{"s":500,"x":0.21,"y":0.65},{"s":500,"x":0.25,"y":0.5},{"s":500,"x":0.3,"y":0.65},{"s":500,"x":0.35,"y":0.6},{"s":500,"x":0.4,"y":0.75},{"s":500,"x":0.45,"y":0.7},{"s":500,"x":0.5,"y":0.9},{"s":500,"x":0.55,"y":0.8},{"s":500,"x":0.6,"y":1.1},{"s":500,"x":0.65,"y":1.0},{"s":500,"x":0.7,"y":1.3},{"s":500,"x":0.75,"y":1.15},{"s":500,"x":0.8,"y":1.6},{"s":500,"x":0.85,"y":1.45},{"s":500,"x":0.9,"y":1.9},{"s":500,"x":0.95,"y":1.6},{"s":500,"x":1,"y":1.85},{"s":500,"x":1.05,"y":1.5},{"s":500,"x":1.1,"y":1.75},{"s":500,"x":1.14,"y":1.4},{"s":500,"x":1.17,"y":1.5},{"s":500,"x":1.19,"y":1.3},{"s":500,"x":1.2,"y":1.25},
{"s":1000,"x":0,"y":0.35},{"s":1000,"x":0.03,"y":0.6},{"s":1000,"x":0.06,"y":0.8},{"s":1000,"x":0.09,"y":0.65},{"s":1000,"x":0.12,"y":0.55},{"s":1000,"x":0.15,"y":0.3},{"s":1000,"x":0.18,"y":0.05},{"s":1000,"x":0.21,"y":0.15},{"s":1000,"x":0.25,"y":0.1},{"s":1000,"x":0.3,"y":0.2},{"s":1000,"x":0.35,"y":0.1},{"s":1000,"x":0.4,"y":0.25},{"s":1000,"x":0.45,"y":0.05},{"s":1000,"x":0.5,"y":0.2},{"s":1000,"x":0.55,"y":0.15},{"s":1000,"x":0.6,"y":0.3},{"s":1000,"x":0.65,"y":0.15},{"s":1000,"x":0.7,"y":0.35},{"s":1000,"x":0.75,"y":0.2},{"s":1000,"x":0.8,"y":0.4},{"s":1000,"x":0.85,"y":0.25},{"s":1000,"x":0.9,"y":0.3},{"s":1000,"x":0.95,"y":0.2},{"s":1000,"x":1,"y":0.4},{"s":1000,"x":1.05,"y":0.15},{"s":1000,"x":1.1,"y":0.1},{"s":1000,"x":1.14,"y":0.05},{"s":1000,"x":1.17,"y":0.1},{"s":1000,"x":1.19,"y":0.12},{"s":1000,"x":1.2,"y":0.08}
]
},
"columns":2,
"spacing":{"row":58,"column":35},
"bounds":"flush",
"concat":[
{"width":257,"height":169,"title":"Hopper",
"layer":[
{"data":{"name":"hop"},"mark":{"type":"line","strokeWidth":1},
"encoding":{
"x":{"field":"x","type":"quantitative","scale":{"domain":[-0.05,1.05],"nice":false,"zero":false},"axis":{"values":[0,0.4,0.8],"format":".1f","title":"Episode (×10⁶)"}},
"y":{"field":"y","type":"quantitative","scale":{"domain":[0.02,3.64],"nice":false,"zero":false},"axis":{"values":[1.5,3],"format":".1f","title":"Average Return"}},
"color":{"field":"s","type":"nominal","scale":{"domain":[0.1,0.5,1,5,10,50,100,500,1000],"range":["#1f77b4","#ff7f0e","#98df8a","#ff9896","#8c564b","#e377c2","#c7c7c7","#dbdb8d","#9edae5"]},"legend":{"title":null,"orient":"none","legendX":-48,"legendY":440,"columns":5,"labelExpr":"'clip=' + format(datum.value, '.1f')"}}}},
{"data":{"values":[{"t":"1e3"}]},"mark":{"type":"text","align":"left","baseline":"alphabetic","dx":1,"dy":-2,"fontSize":13.7,"color":"#1a1a1a"},
"encoding":{"x":{"datum":-0.05},"y":{"datum":3.64},"text":{"field":"t"}}}
]},
{"width":257,"height":169,"title":"Walker2d",
"layer":[
{"data":{"name":"wal"},"mark":{"type":"line","strokeWidth":1},
"encoding":{
"x":{"field":"x","type":"quantitative","scale":{"domain":[-0.0735,1.5435],"nice":false,"zero":false},"axis":{"values":[0,0.6,1.2],"format":".1f","title":"Episode (×10⁶)"}},
"y":{"field":"y","type":"quantitative","scale":{"domain":[-0.06,4.98],"nice":false,"zero":false},"axis":{"values":[0,2,4],"format":"d","title":"Average Return"}},
"color":{"field":"s","type":"nominal","scale":{"domain":[0.1,0.5,1,5,10,50,100,500,1000],"range":["#1f77b4","#ff7f0e","#98df8a","#ff9896","#8c564b","#e377c2","#c7c7c7","#dbdb8d","#9edae5"]},"legend":{"title":null,"orient":"none","legendX":-48,"legendY":440,"columns":5,"labelExpr":"'clip=' + format(datum.value, '.1f')"}}}},
{"data":{"values":[{"t":"1e3"}]},"mark":{"type":"text","align":"left","baseline":"alphabetic","dx":1,"dy":-2,"fontSize":13.7,"color":"#1a1a1a"},
"encoding":{"x":{"datum":-0.0735},"y":{"datum":4.98},"text":{"field":"t"}}}
]},
{"width":257,"height":168,"title":"Humanoid",
"layer":[
{"data":{"name":"hum"},"mark":{"type":"line","strokeWidth":1},
"encoding":{
"x":{"field":"x","type":"quantitative","scale":{"domain":[-0.05,1.05],"nice":false,"zero":false},"axis":{"values":[0,0.4,0.8],"format":".1f","title":"Episode (×10⁶)"}},
"y":{"field":"y","type":"quantitative","scale":{"domain":[0.05,5.52],"nice":false,"zero":false},"axis":{"values":[2,4],"format":"d","title":"Average Return"}},
"color":{"field":"s","type":"nominal","scale":{"domain":[0.1,0.5,1,5,10,50,100,500,1000],"range":["#1f77b4","#ff7f0e","#98df8a","#ff9896","#8c564b","#e377c2","#c7c7c7","#dbdb8d","#9edae5"]},"legend":{"title":null,"orient":"none","legendX":-48,"legendY":440,"columns":5,"labelExpr":"'clip=' + format(datum.value, '.1f')"}}}},
{"data":{"values":[{"t":"1e3"}]},"mark":{"type":"text","align":"left","baseline":"alphabetic","dx":1,"dy":-2,"fontSize":13.7,"color":"#1a1a1a"},
"encoding":{"x":{"datum":-0.05},"y":{"datum":5.52},"text":{"field":"t"}}}
]},
{"width":257,"height":168,"title":"Ant",
"layer":[
{"data":{"name":"ant"},"mark":{"type":"line","strokeWidth":1},
"encoding":{
"x":{"field":"x","type":"quantitative","scale":{"domain":[-0.06,1.26],"nice":false,"zero":false},"axis":{"values":[0,0.5,1],"format":".1f","title":"Episode (×10⁶)"}},
"y":{"field":"y","type":"quantitative","scale":{"domain":[-0.32,5.58],"nice":false,"zero":false},"axis":{"values":[0,2,4],"format":"d","title":"Average Return"}},
"color":{"field":"s","type":"nominal","scale":{"domain":[0.1,0.5,1,5,10,50,100,500,1000],"range":["#1f77b4","#ff7f0e","#98df8a","#ff9896","#8c564b","#e377c2","#c7c7c7","#dbdb8d","#9edae5"]},"legend":{"title":null,"orient":"none","legendX":-48,"legendY":440,"columns":5,"labelExpr":"'clip=' + format(datum.value, '.1f')"}}}},
{"data":{"values":[{"t":"1e3"}]},"mark":{"type":"text","align":"left","baseline":"alphabetic","dx":1,"dy":-2,"fontSize":13.7,"color":"#1a1a1a"},
"encoding":{"x":{"datum":-0.06},"y":{"datum":5.58},"text":{"field":"t"}}}
]}
]
}
